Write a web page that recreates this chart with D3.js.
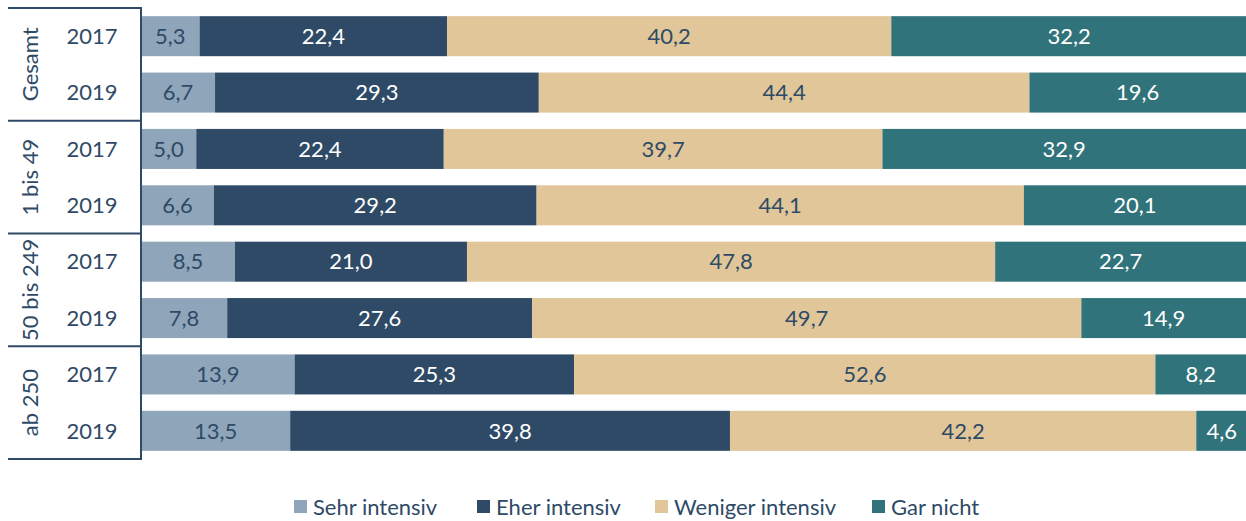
<!DOCTYPE html>
<html>
<head>
<meta charset="utf-8">
<script src="https://cdn.jsdelivr.net/npm/d3@7"></script>
<style>
  body { margin: 0; background: #fff; }
  #chart { width: 1246px; height: 521px; }
  text { font-family: Lato, "Open Sans", sans-serif; }
</style>
</head>
<body>
<div id="chart"></div>
<script>
// data
var groups = ["Gesamt", "1 bis 49", "50 bis 249", "ab 250"];
var years = ["2017", "2019"];
var seriesNames = ["Sehr intensiv", "Eher intensiv", "Weniger intensiv", "Gar nicht"];
var sehrIntensiv    = [5.3, 6.7, 5.0, 6.6, 8.5, 7.8, 13.9, 13.5];
var eherIntensiv    = [22.4, 29.3, 22.4, 29.2, 21.0, 27.6, 25.3, 39.8];
var wenigerIntensiv = [40.2, 44.4, 39.7, 44.1, 47.8, 49.7, 52.6, 42.2];
var garNicht        = [32.2, 19.6, 32.9, 20.1, 22.7, 14.9, 8.2, 4.6];

var colors = ["#8FA5B9", "#2E4A66", "#E0C699", "#31737A"];
var labelColors = ["#2E4A66", "#ffffff", "#2E4A66", "#ffffff"];
var lineColor = "#2E4A66";
var fontSize = 22;

var width = 1246, height = 521;
var margin = {top: 8, left: 141, right: 0, bottom: 62};

var svg = d3.select("#chart").append("svg")
    .attr("width", width)
    .attr("height", height);

// one row per group/year
var rows = [];
groups.forEach(function(g, gi) {
    years.forEach(function(y, yi) {
        var i = gi * years.length + yi;
        var vals = [sehrIntensiv[i], eherIntensiv[i], wenigerIntensiv[i], garNicht[i]];
        var x0 = 0;
        var segs = vals.map(function(v, k) {
            var s = {key: k, start: x0, value: v};
            x0 += v;
            return s;
        });
        rows.push({id: g + "|" + y, group: g, year: y, segs: segs});
    });
});

var xScale = d3.scaleLinear()
    .domain([0, 100])
    .range([margin.left, width - margin.right]);

var yScale = d3.scaleBand()
    .domain(rows.map(function(d) { return d.id; }))
    .range([margin.top, height - margin.bottom])
    .paddingInner(0.29)
    .paddingOuter(0.145);

// bars
var rowG = svg.selectAll(".row")
    .data(rows)
    .enter()
    .append("g")
    .attr("class", "row")
    .attr("transform", function(d) { return "translate(0," + yScale(d.id) + ")"; });

rowG.selectAll("rect")
    .data(function(d) { return d.segs; })
    .enter()
    .append("rect")
    .attr("x", function(d) { return xScale(d.start); })
    .attr("y", 0)
    .attr("width", function(d) { return xScale(d.start + d.value) - xScale(d.start); })
    .attr("height", yScale.bandwidth())
    .attr("fill", function(d) { return colors[d.key]; });

rowG.selectAll("text")
    .data(function(d) { return d.segs; })
    .enter()
    .append("text")
    .attr("x", function(d) { return xScale(d.start + d.value / 2); })
    .attr("y", yScale.bandwidth() / 2)
    .attr("dy", "0.35em")
    .attr("text-anchor", "middle")
    .attr("font-size", fontSize)
    .attr("fill", function(d) { return labelColors[d.key]; })
    .text(function(d) { return d3.format(".1f")(d.value).replace(".", ","); });

// year labels
svg.selectAll(".yearLabel")
    .data(rows)
    .enter()
    .append("text")
    .attr("class", "yearLabel")
    .attr("x", 92)
    .attr("y", function(d) { return yScale(d.id) + yScale.bandwidth() / 2; })
    .attr("dy", "0.35em")
    .attr("text-anchor", "middle")
    .attr("font-size", fontSize)
    .attr("fill", lineColor)
    .text(function(d) { return d.year; });

// group labels + separators
var step = yScale.step();
var groupH = step * years.length;
var gTop = margin.top;

groups.forEach(function(g, gi) {
    var y0 = gTop + gi * groupH;
    svg.append("text")
        .attr("transform", "translate(30," + (y0 + groupH / 2) + ") rotate(-90)")
        .attr("dy", "0.35em")
        .attr("text-anchor", "middle")
        .attr("font-size", fontSize)
        .attr("fill", lineColor)
        .text(g);
});

d3.range(groups.length + 1).forEach(function(i) {
    var y = gTop + i * groupH;
    svg.append("line")
        .attr("x1", 8).attr("x2", margin.left)
        .attr("y1", y).attr("y2", y)
        .attr("stroke", lineColor)
        .attr("stroke-width", 2);
});

svg.append("line")
    .attr("x1", margin.left).attr("x2", margin.left)
    .attr("y1", gTop - 1).attr("y2", gTop + groups.length * groupH + 1)
    .attr("stroke", lineColor)
    .attr("stroke-width", 2);

// legend (nudged up a little so descenders stay inside the frame)
var legendX = [294, 477, 655, 872];
var legend = svg.selectAll(".legend")
    .data(seriesNames)
    .enter()
    .append("g")
    .attr("class", "legend")
    .attr("transform", function(d, i) { return "translate(" + legendX[i] + ",500)"; });

legend.append("rect")
    .attr("width", 13)
    .attr("height", 13)
    .attr("fill", function(d, i) { return colors[i]; });

legend.append("text")
    .attr("x", 19)
    .attr("y", 7)
    .attr("dy", "0.35em")
    .attr("font-size", fontSize)
    .attr("fill", lineColor)
    .text(function(d) { return d; });
</script>
</body>
</html>
